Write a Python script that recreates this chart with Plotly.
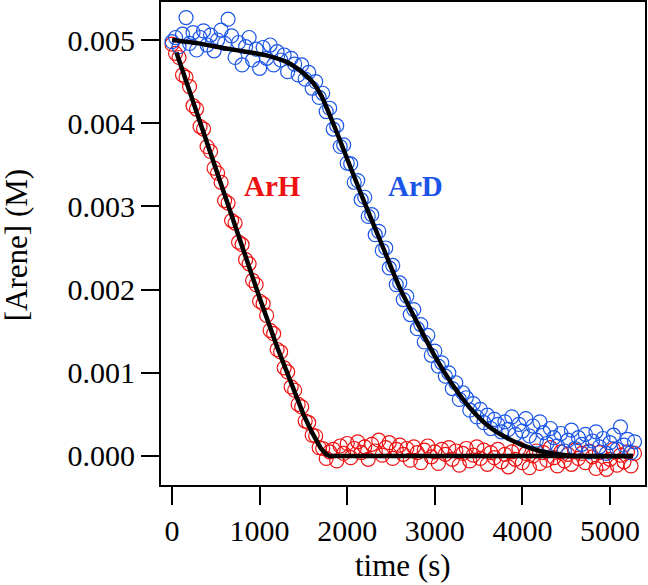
import plotly.graph_objects as go

# ---- data ----
time_s = [0, 40, 80, 120, 160, 200, 240, 280, 320, 360, 400, 440, 480, 520, 560, 600, 640, 680, 720, 760,
          800, 840, 880, 920, 960, 1000, 1040, 1080, 1120, 1160, 1200, 1240, 1280, 1320, 1360, 1400, 1440, 1480, 1520, 1560,
          1600, 1640, 1680, 1720, 1760, 1800, 1840, 1880, 1920, 1960, 2000, 2040, 2080, 2120, 2160, 2200, 2240, 2280, 2320, 2360,
          2400, 2440, 2480, 2520, 2560, 2600, 2640, 2680, 2720, 2760, 2800, 2840, 2880, 2920, 2960, 3000, 3040, 3080, 3120, 3160,
          3200, 3240, 3280, 3320, 3360, 3400, 3440, 3480, 3520, 3560, 3600, 3640, 3680, 3720, 3760, 3800, 3840, 3880, 3920, 3960,
          4000, 4040, 4080, 4120, 4160, 4200, 4240, 4280, 4320, 4360, 4400, 4440, 4480, 4520, 4560, 4600, 4640, 4680, 4720, 4760,
          4800, 4840, 4880, 4920, 4960, 5000, 5040, 5080, 5120, 5160, 5200, 5240, 5280]

arh_M = [0.00495, 0.00484, 0.00479, 0.00458, 0.00455, 0.00444, 0.00421, 0.00417, 0.00396, 0.00393,
         0.00372, 0.00366, 0.00346, 0.00340, 0.00329, 0.00307, 0.00304, 0.00283, 0.00280, 0.00257,
         0.00254, 0.00236, 0.00231, 0.00211, 0.00206, 0.00186, 0.00183, 0.00169, 0.00151, 0.00147,
         0.00128, 0.00125, 0.00106, 0.00101, 0.00083, 0.00079, 0.00062, 0.00059, 0.00042, 0.00040,
         0.00025, 0.00024, 0.00010, 0.00009, -0.00003, 0.00005, 0.00008, -0.00006, 0.00012, 0.00003,
         0.00015, -0.00002, 0.00009, 0.00017, 0.00004, 0.00011, -0.00004, 0.00014, 0.00006, 0.00019,
         0.00001, 0.00010, 0.00016, -0.00003, 0.00008, 0.00013, 0.00002, 0.00009, -0.00005, 0.00011,
         0.00004, -0.00008, 0.00007, 0.00012, -0.00001, 0.00005, -0.00009, 0.00008, 0.00002, 0.00010,
         -0.00004, 0.00006, -0.00011, 0.00003, 0.00009, -0.00006, 0.00001, 0.00011, -0.00003, 0.00007,
         -0.00010, 0.00004, -0.00002, 0.00008, -0.00007, 0.00002, -0.00013, 0.00005, -0.00004, 0.00009,
         -0.00008, 0.00003, -0.00014, 0.00000, 0.00006, -0.00009, 0.00004, -0.00005, 0.00010, -0.00002,
         -0.00012, 0.00005, -0.00006, 0.00002, -0.00010, 0.00007, -0.00003, 0.00003, -0.00008, 0.00006,
         -0.00001, -0.00015, 0.00004, -0.00009, -0.00016, -0.00004, 0.00008, -0.00011, 0.00001, -0.00007,
         0.00005, -0.00012, 0.00003]

ard_M = [0.00498, 0.00503, 0.00492, 0.00507, 0.00527, 0.00496, 0.00509, 0.00488, 0.00503, 0.00511,
         0.00494, 0.00506, 0.00487, 0.00500, 0.00512, 0.00496, 0.00525, 0.00505, 0.00479, 0.00497,
         0.00470, 0.00492, 0.00503, 0.00476, 0.00489, 0.00466, 0.00491, 0.00478, 0.00494, 0.00470,
         0.00486, 0.00476, 0.00482, 0.00462, 0.00478, 0.00471, 0.00458, 0.00470, 0.00453, 0.00461,
         0.00442, 0.00450, 0.00431, 0.00436, 0.00414, 0.00418, 0.00393, 0.00397, 0.00372, 0.00374,
         0.00352, 0.00351, 0.00329, 0.00331, 0.00308, 0.00311, 0.00288, 0.00290, 0.00266, 0.00270,
         0.00247, 0.00250, 0.00226, 0.00229, 0.00206, 0.00208, 0.00188, 0.00192, 0.00170, 0.00176,
         0.00153, 0.00158, 0.00137, 0.00145, 0.00121, 0.00126, 0.00108, 0.00112, 0.00096, 0.00100,
         0.00081, 0.00088, 0.00068, 0.00076, 0.00070, 0.00055, 0.00063, 0.00047, 0.00056, 0.00040,
         0.00049, 0.00033, 0.00044, 0.00038, 0.00029, 0.00041, 0.00032, 0.00047, 0.00026, 0.00038,
         0.00030, 0.00045, 0.00024, 0.00036, 0.00019, 0.00041, 0.00028, 0.00015, 0.00033, 0.00022,
         0.00012, 0.00027, 0.00006, 0.00019, 0.00031, 0.00009, 0.00022, 0.00014, 0.00026, 0.00005,
         0.00018, 0.00029, 0.00011, 0.00021, 0.00003, 0.00016, 0.00025, 0.00008, 0.00035, 0.00013,
         0.00020, 0.00004, 0.00017]

arh_fit_t = [50, 200, 400, 600, 800, 1000, 1200, 1400, 1500, 1600, 1700, 1760, 1800, 5260]
arh_fit_M = [0.00485, 0.00438, 0.00375, 0.00312, 0.00250, 0.00190, 0.00131, 0.00075, 0.00050, 0.00028,
             0.00009, 0.00002, 0.0, 0.0]

ard_fit_t = [0, 300, 600, 900, 1100, 1300, 1400, 1500, 1600, 1700, 1800, 1900, 2000, 2200, 2400, 2600,
             2800, 3000, 3200, 3400, 3600, 3800, 4000, 4200, 4400, 4600, 5260]
ard_fit_M = [0.00500, 0.00496, 0.00490, 0.00485, 0.00481, 0.00474, 0.00468, 0.00460, 0.00450, 0.00434,
             0.00410, 0.00384, 0.00357, 0.00304, 0.00253, 0.00202, 0.00160, 0.00120, 0.00086, 0.00058,
             0.00037, 0.00023, 0.00013, 0.00006, 0.00002, 0.0, 0.0]

labels = ["ArH", "ArD"]
label_t = [1142, 2774]
label_M = [0.003245, 0.003245]

RED = "#ee1111"
BLUE = "#1a55e8"
FONT = "Liberation Serif"

fig = go.Figure()
fig.add_trace(go.Scatter(x=time_s, y=arh_M, mode="markers", name="ArH",
                         marker=dict(symbol="circle-open", size=14, color=RED, line=dict(width=1.2))))
fig.add_trace(go.Scatter(x=time_s, y=ard_M, mode="markers", name="ArD",
                         marker=dict(symbol="circle-open", size=14, color=BLUE, line=dict(width=1.2))))
fig.add_trace(go.Scatter(x=arh_fit_t, y=arh_fit_M, mode="lines", line=dict(color="black", width=4.5)))
fig.add_trace(go.Scatter(x=ard_fit_t, y=ard_fit_M, mode="lines", line=dict(color="black", width=4.5, shape="spline", smoothing=0.6)))

for txt, t, m, c in zip(labels, label_t, label_M, [RED, BLUE]):
    fig.add_annotation(x=t, y=m, text="<b>%s</b>" % txt, showarrow=False,
                       font=dict(family=FONT, size=29, color=c))

# axis titles as paper-positioned text
fig.add_annotation(x=0.5, y=-0.166, xref="paper", yref="paper", text="time (s)", showarrow=False,
                   xanchor="center", yanchor="middle", font=dict(family=FONT, size=31, color="black"))
fig.add_annotation(x=-0.297, y=0.497, xref="paper", yref="paper", text="[Arene] (M)", showarrow=False,
                   textangle=-90, xanchor="center", yanchor="middle", font=dict(family=FONT, size=31, color="black"))

fig.update_layout(
    width=648, height=585,
    margin=dict(l=161, r=3, t=2, b=100, autoexpand=False),
    paper_bgcolor="white", plot_bgcolor="white",
    showlegend=False,
    font=dict(family=FONT, size=30, color="black"),
)
fig.update_xaxes(range=[-126, 5400], tickmode="linear", tick0=0, dtick=1000,
                 showgrid=False, zeroline=False, automargin=False,
                 showline=True, mirror=True, linecolor="black", linewidth=2,
                 ticks="outside", ticklen=18, tickwidth=2, tickcolor="black",
                 tickfont=dict(family=FONT, size=30))
fig.update_yaxes(range=[-0.000349, 0.005457], tickmode="linear", tick0=0, dtick=0.001, tickformat=".3f",
                 showgrid=False, zeroline=False, automargin=False,
                 showline=True, mirror=True, linecolor="black", linewidth=2,
                 ticks="outside", ticklen=18, tickwidth=2, tickcolor="black",
                 tickfont=dict(family=FONT, size=30))

fig.write_html("out.html", config={"displayModeBar": False},
               post_script="document.body.style.margin='0px';document.body.style.overflow='hidden';")
